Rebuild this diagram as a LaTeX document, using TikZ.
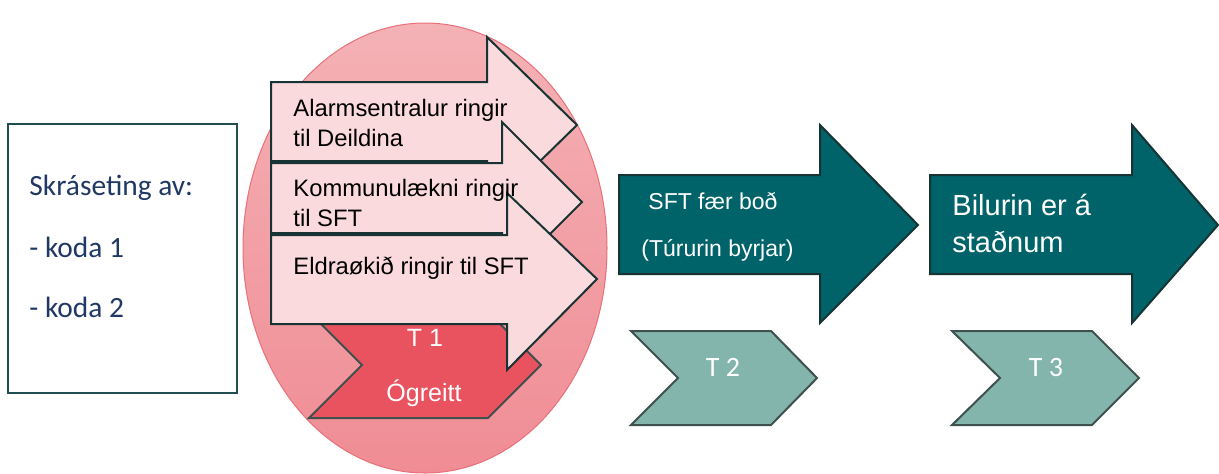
\documentclass[tikz,border=0pt]{standalone}
\usepackage{fontspec}
\setmainfont{Liberation Sans}
\newfontfamily\calfont{Carlito}
\definecolor{tealdark}{HTML}{00636A}
\definecolor{tealsoft}{HTML}{84B5AD}
\definecolor{chevedge}{HTML}{3E514E}
\definecolor{edgedark}{HTML}{173333}
\definecolor{pinklight}{HTML}{FBDADE}
\definecolor{ovaltop}{HTML}{F4B2B6}
\definecolor{ovalbot}{HTML}{F08C94}
\definecolor{ovaledge}{HTML}{E8707A}
\definecolor{redchev}{HTML}{E9525F}
\definecolor{boxedge}{HTML}{1F4D50}
\definecolor{navytext}{HTML}{203864}

\begin{document}
\begin{tikzpicture}[x=0.5pt,y=-0.5pt,
  pinkarrow/.style={fill=pinklight, draw=edgedark, line width=1pt},
  tealarrow/.style={fill=tealdark, draw=edgedark, line width=1pt},
  chev/.style={fill=tealsoft, draw=chevedge, line width=1pt},
  lbl/.style={anchor=west, inner sep=0pt, align=left},
  ]
  \useasboundingbox (0,0) rectangle (1219,473);
  % registration box
  \draw[boxedge, line width=1pt] (8,124) rectangle (237,393);
  \node[lbl, font=\calfont\fontsize{14.7}{18}\selectfont, text=navytext] (reg) at (29,188) {Skráseting av:};
  \node[lbl, font=\calfont\fontsize{14.7}{18}\selectfont, text=navytext] (k1) at (29,247) {- koda 1};
  \node[lbl, font=\calfont\fontsize{14.7}{18}\selectfont, text=navytext] (k2) at (29,307) {- koda 2};
  % T1 oval
  \path[top color=ovaltop, bottom color=ovalbot, draw=ovaledge, line width=0.5pt]
    (425,248) ellipse [x radius=91pt, y radius=112.5pt];
  \draw[fill=redchev, draw=chevedge, line width=1pt]
    (309,312) -- (488,312) -- (541,365) -- (488,418) -- (309,418) -- (362,365) -- cycle;
  \node[inner sep=0pt, text=white, font=\fontsize{12.5}{15}\selectfont] (t1) at (425,338) {T 1};
  \node[inner sep=0pt, text=white, font=\fontsize{12.5}{15}\selectfont] (og) at (424,393) {Ógreitt};
  % calls
  \draw[pinkarrow] (271,82) -- (487,82) -- (487,37) -- (577,125) -- (487,213) -- (487,161) -- (271,161) -- cycle;
  \draw[pinkarrow] (271,163) -- (502,163) -- (502,122) -- (582,202) -- (502,282) -- (502,233) -- (271,233) -- cycle;
  \draw[pinkarrow] (271,235) -- (507,235) -- (507,193) -- (597,279) -- (507,370) -- (507,324) -- (271,324) -- cycle;
  \node[lbl, font=\fontsize{11.9}{15}\selectfont] (alarm) at (293,123) {Alarmsentralur ringir\\til Deildina};
  \node[lbl, font=\fontsize{11.9}{15}\selectfont] (komm) at (293,202.5) {Kommunulækni ringir\\til SFT};
  \node[lbl, font=\fontsize{11.9}{15}\selectfont] (eldra) at (293,268) {Eldraøkið ringir til SFT};
  % T2 and T3
  \draw[tealarrow] (619,175) -- (820,175) -- (820,125) -- (918,225) -- (820,323) -- (820,274) -- (619,274) -- cycle;
  \draw[tealarrow] (930,175) -- (1132,175) -- (1132,125) -- (1218,225) -- (1132,323) -- (1132,274) -- (930,274) -- cycle;
  \node[lbl, text=white, font=\fontsize{11.5}{14}\selectfont] (sft) at (648,201) {SFT fær boð};
  \node[lbl, text=white, font=\fontsize{11.5}{14}\selectfont] (tur) at (641,250) {(Túrurin byrjar)};
  \node[lbl, text=white, font=\fontsize{14.5}{18.5}\selectfont] (bil) at (952,223.5) {Bilurin er á\\staðnum};
  \draw[chev] (631,331) -- (771,331) -- (817,378) -- (771,425) -- (631,425) -- (678,378) -- cycle;
  \draw[chev] (952,331) -- (1092,331) -- (1139,378) -- (1092,425) -- (952,425) -- (1000,378) -- cycle;
  \node[inner sep=0pt, text=white, font=\calfont\fontsize{14}{17}\selectfont] (t2) at (723,367) {T 2};
  \node[inner sep=0pt, text=white, font=\calfont\fontsize{14}{17}\selectfont] (t3) at (1046,367) {T 3};
\end{tikzpicture}
\end{document}
